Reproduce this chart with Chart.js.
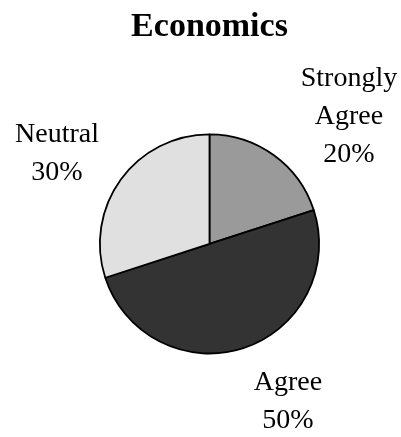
<!DOCTYPE html>
<html>
<head>
<meta charset="utf-8">
<script src="https://cdn.jsdelivr.net/npm/chart.js@4"></script>
<style>
  html, body { margin: 0; padding: 0; background: #fff; }
  #wrap { width: 401px; height: 437px; }
</style>
</head>
<body>
<div id="wrap"><canvas id="chart" width="401" height="437"></canvas></div>
<script>
const categories = ['Strongly Agree', 'Agree', 'Neutral'];
const values     = [20, 50, 30];
const labelLines = [['Strongly', 'Agree', '20%'], ['Agree', '50%'], ['Neutral', '30%']];

// label anchors (baseline of first line), layout only
const labelPos = [[349, 86], [288, 390], [57, 142]];
const lineGap = 38;

const sliceLabels = {
  id: 'sliceLabels',
  afterDatasetsDraw(chart) {
    const ctx = chart.ctx;
    ctx.save();
    ctx.fillStyle = '#000';
    ctx.font = '28px "Liberation Serif", "Times New Roman", serif';
    ctx.textAlign = 'center';
    ctx.textBaseline = 'alphabetic';
    labelLines.forEach((lines, i) => {
      const [x, y] = labelPos[i];
      lines.forEach((t, j) => ctx.fillText(t, x, y + j * lineGap));
    });
    ctx.restore();
  }
};

new Chart(document.getElementById('chart'), {
  type: 'pie',
  data: {
    labels: categories,
    datasets: [{
      data: values,
      backgroundColor: ['#9a9a9a', '#333333', '#e0e0e0'],
      borderColor: '#000',
      borderWidth: 1.8,
    }],
  },
  options: {
    responsive: false,
    animation: false,
    layout: { padding: { left: 99, right: 81, top: 0, bottom: 82 } },
    plugins: {
      legend: { display: false },
      tooltip: { enabled: false },
      title: {
        display: true,
        text: 'Economics',
        color: '#000',
        font: { family: '"Liberation Serif", "Times New Roman", serif', size: 34, weight: 'bold', lineHeight: 1.2 },
        padding: { top: 7, bottom: 85 },
      },
    },
  },
  plugins: [sliceLabels],
});
</script>
</body>
</html>
